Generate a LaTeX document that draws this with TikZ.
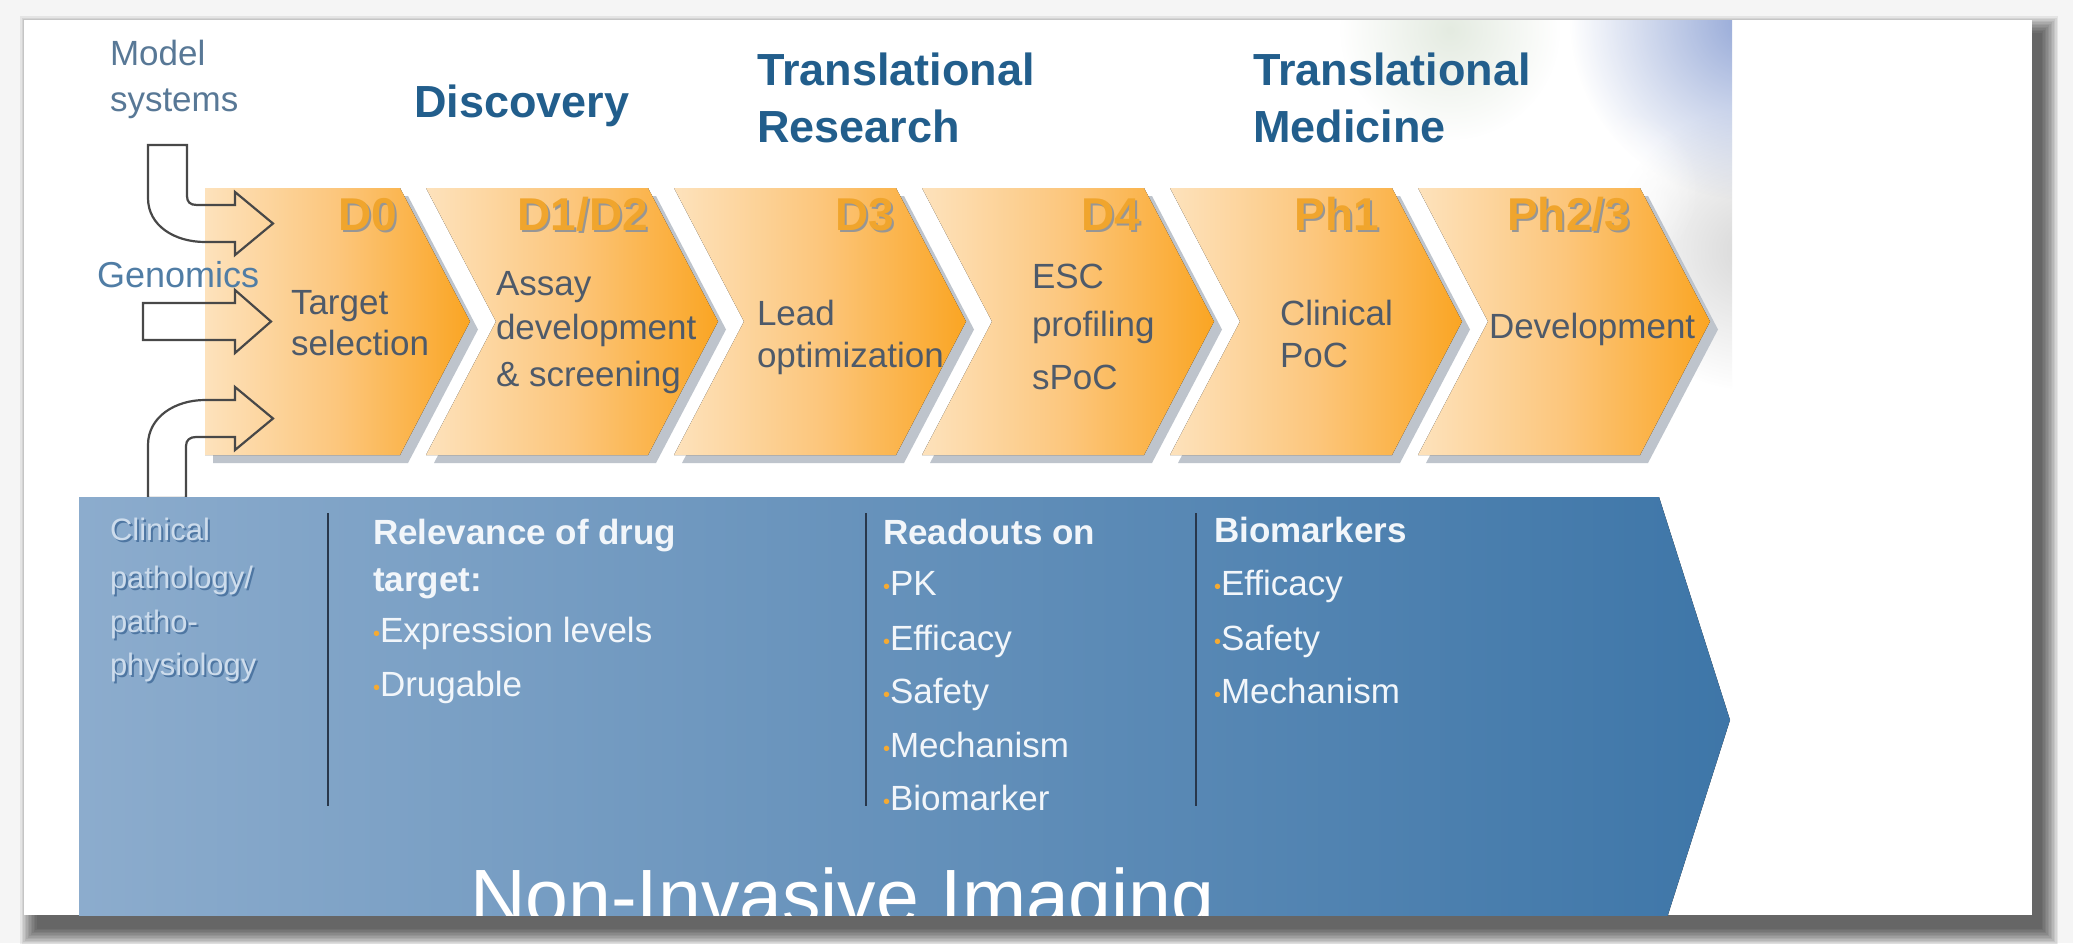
\documentclass[tikz,border=0pt]{standalone}
\usepackage{fontspec}
\setmainfont{Liberation Sans}
\usetikzlibrary{fadings}
\definecolor{bgc}{RGB}{245,245,245}
\definecolor{hdrblue}{RGB}{34,94,140}
\definecolor{sideblue}{RGB}{88,120,150}
\definecolor{genblue}{RGB}{80,125,165}
\definecolor{chevL}{RGB}{253,226,188}
\definecolor{chevM}{RGB}{252,198,124}
\definecolor{chevR}{RGB}{250,165,35}
\definecolor{chevshadow}{RGB}{190,196,204}
\definecolor{chevtext}{RGB}{78,90,106}
\definecolor{dlabel}{RGB}{240,165,45}
\definecolor{dlabshadow}{RGB}{150,150,150}
\definecolor{bandL}{RGB}{140,172,205}
\definecolor{bandR}{RGB}{62,118,168}
\definecolor{sepc}{RGB}{40,55,75}
\definecolor{bandtext}{RGB}{242,246,250}
\definecolor{bulc}{RGB}{245,170,50}
\definecolor{arrowgray}{RGB}{72,72,72}
\definecolor{embL}{RGB}{205,220,236}
\definecolor{embD}{RGB}{78,118,162}
\definecolor{blobblue}{RGB}{135,157,210}
\definecolor{blobgray}{RGB}{200,200,200}
\definecolor{blobgreen}{RGB}{210,222,205}
\tikzfading[name=softblob, inner color=transparent!0, outer color=transparent!100]
\newcommand\mytxt[5]{\node[txtbase,#4] (#1) at (#2,#3) {#5};}
\newcommand\bul{{\color{bulc}\fontsize{20}{20}\selectfont\raisebox{2pt}{•}}}
\begin{document}
\begin{tikzpicture}[x=1pt,y=-1pt,
  txtbase/.style={anchor=base west, inner sep=0pt, outer sep=0pt},
  hdr/.style={font=\fontsize{45}{50}\selectfont\bfseries, text=hdrblue},
  side/.style={font=\fontsize{35}{40}\selectfont, text=sideblue},
  genom/.style={font=\fontsize{36}{40}\selectfont, text=genblue},
  chevtxt/.style={font=\fontsize{35}{40}\selectfont, text=chevtext},
  dlab/.style={font=\fontsize{46}{50}\selectfont\bfseries, text=dlabel, anchor=base east},
  dlabsh/.style={font=\fontsize{46}{50}\selectfont\bfseries, text=dlabshadow, anchor=base east},
  bandhead/.style={font=\fontsize{35}{40}\selectfont\bfseries, text=bandtext},
  bandtxt/.style={font=\fontsize{35}{40}\selectfont, text=bandtext},
  embd/.style={font=\fontsize{31}{36}\selectfont, text=embD},
  embl/.style={font=\fontsize{31}{36}\selectfont, text=embL},
  big/.style={font=\fontsize{77}{80}\selectfont, text=white},
  chevfill/.style={left color=chevL, right color=chevR, middle color=chevM},
  arr/.style={draw=arrowgray, line width=2.2pt, line join=miter},
  sepline/.style={draw=sepc, line width=2.5pt}]
\useasboundingbox (0,0) rectangle (2073,943);
\fill[bgc] (0,0) rectangle (2073,943);
% card shadow
\foreach \i in {1,...,12}{
  \fill[black, opacity=0.065] ({38-1.5*\i},{34-1.5*\i}) rectangle ({2040+1.5*\i},{927+1.5*\i});
}
\fill[white] (24,20) rectangle (2032,915);
% blurred picture at top right of the slide
\begin{scope}
  \clip (24,20) rectangle (1732,915);
  \fill[blobgreen, path fading=softblob, opacity=0.6] (1450,30) circle (110);
  \fill[blobgray, path fading=softblob, opacity=0.7] (1750,250) circle (140);
  \fill[blobblue, path fading=softblob, opacity=0.9] (1750,20) circle (180);
  \fill[white, path fading=softblob, opacity=0.8] (1620,190) circle (80);
\end{scope}
% headings
\mytxt{model1}{110}{65}{side}{Model}
\mytxt{model2}{110}{111}{side}{systems}
\mytxt{disc}{414}{117}{hdr}{Discovery}
\mytxt{trr1}{757}{85}{hdr}{Translational}
\mytxt{trr2}{757}{142}{hdr}{Research}
\mytxt{trm1}{1253}{85}{hdr}{Translational}
\mytxt{trm2}{1253}{142}{hdr}{Medicine}
% chevrons
\fill[chevshadow] (213,196) -- (408,196) -- ++(70,133.5) -- ++(-70,133.5) -- (213,463) -- cycle;
\fill[chevfill] (205,188) -- (400,188) -- ++(70,133.5) -- ++(-70,133.5) -- (205,455) -- cycle;
\foreach \x in {426,674,922,1170,1418}{
  \fill[chevshadow] (\x+8,196) -- ++(222,0) -- ++(70,133.5) -- ++(-70,133.5) -- ++(-222,0) -- ++(70,-133.5) -- cycle;
  \fill[chevfill] (\x,188) -- ++(222,0) -- ++(70,133.5) -- ++(-70,133.5) -- ++(-222,0) -- ++(70,-133.5) -- cycle;
}
\mytxt{genomics}{97}{287}{genom}{Genomics}
% chevron labels
\mytxt{d0s}{399}{232}{dlabsh}{D0}
\mytxt{d0}{397}{230}{dlab}{D0}
\mytxt{d12s}{650}{232}{dlabsh}{D1/D2}
\mytxt{d12}{648}{230}{dlab}{D1/D2}
\mytxt{d3s}{896}{232}{dlabsh}{D3}
\mytxt{d3}{894}{230}{dlab}{D3}
\mytxt{d4s}{1142}{232}{dlabsh}{D4}
\mytxt{d4}{1140}{230}{dlab}{D4}
\mytxt{ph1s}{1381}{232}{dlabsh}{Ph1}
\mytxt{ph1}{1379}{230}{dlab}{Ph1}
\mytxt{ph23s}{1632}{232}{dlabsh}{Ph2/3}
\mytxt{ph23}{1630}{230}{dlab}{Ph2/3}
% chevron texts
\mytxt{c1a}{291}{314}{chevtxt}{Target}
\mytxt{c1b}{291}{355}{chevtxt}{selection}
\mytxt{c2a}{496}{295}{chevtxt}{Assay}
\mytxt{c2b}{496}{339}{chevtxt}{development}
\mytxt{c2c}{496}{386}{chevtxt}{\& screening}
\mytxt{c3a}{757}{325}{chevtxt}{Lead}
\mytxt{c3b}{757}{367}{chevtxt}{optimization}
\mytxt{c4a}{1032}{288}{chevtxt}{ESC}
\mytxt{c4b}{1032}{336}{chevtxt}{profiling}
\mytxt{c4c}{1032}{389}{chevtxt}{sPoC}
\mytxt{c5a}{1280}{325}{chevtxt}{Clinical}
\mytxt{c5b}{1280}{367}{chevtxt}{PoC}
\mytxt{c6a}{1489}{338}{chevtxt}{Development}
% input block arrows
\draw[arr] (148,145) -- (148,198) .. controls (148,226) and (175,242) .. (205,242) -- (235,242)
  -- (235,255) -- (273,223.5) -- (235,192) -- (235,205) -- (197,205)
  .. controls (190,205) and (187,202) .. (187,196) -- (187,145) -- cycle;
\draw[arr] (143,303) -- (235,303) -- (235,290) -- (271,321.5) -- (235,353) -- (235,340) -- (143,340) -- cycle;
\draw[arr] (148,498) -- (148,445) .. controls (148,417) and (175,400) .. (205,400) -- (235,400)
  -- (235,387) -- (273,418.5) -- (235,450) -- (235,437) -- (196,437)
  .. controls (190,437) and (186,440) .. (186,446) -- (186,498) -- cycle;
% blue band
\begin{scope}
  \clip (24,20) rectangle (2032,915);
  \fill[left color=bandL, right color=bandR] (79,497) -- (1659,497) -- (1730,720) -- (1659,943) -- (79,943) -- cycle;
  \mytxt{nii}{470}{923}{big}{Non-Invasive Imaging}
\end{scope}
\draw[sepline] (328,513) -- (328,806);
\draw[sepline] (866,513) -- (866,806);
\draw[sepline] (1196,513) -- (1196,806);
% column 1 (embossed)
\mytxt{cl1s}{112}{542}{embd}{Clinical}
\mytxt{cl2s}{112}{590}{embd}{pathology/}
\mytxt{cl3s}{112}{634}{embd}{patho-}
\mytxt{cl4s}{112}{677}{embd}{physiology}
\mytxt{cl1}{110}{540}{embl}{Clinical}
\mytxt{cl2}{110}{588}{embl}{pathology/}
\mytxt{cl3}{110}{632}{embl}{patho-}
\mytxt{cl4}{110}{675}{embl}{physiology}
% column 2
\mytxt{rel1}{373}{544}{bandhead}{Relevance of drug}
\mytxt{rel2}{373}{591}{bandhead}{target:}
\mytxt{rel3}{373}{642}{bandtxt}{\bul Expression levels}
\mytxt{rel4}{373}{696}{bandtxt}{\bul Drugable}
% column 3
\mytxt{ro0}{883}{544}{bandhead}{Readouts on}
\mytxt{ro1}{883}{595}{bandtxt}{\bul PK}
\mytxt{ro2}{883}{650}{bandtxt}{\bul Efficacy}
\mytxt{ro3}{883}{703}{bandtxt}{\bul Safety}
\mytxt{ro4}{883}{757}{bandtxt}{\bul Mechanism}
\mytxt{ro5}{883}{810}{bandtxt}{\bul Biomarker}
% column 4
\mytxt{bm0}{1214}{542}{bandhead}{Biomarkers}
\mytxt{bm1}{1214}{595}{bandtxt}{\bul Efficacy}
\mytxt{bm2}{1214}{650}{bandtxt}{\bul Safety}
\mytxt{bm3}{1214}{703}{bandtxt}{\bul Mechanism}
\end{tikzpicture}
\end{document}
